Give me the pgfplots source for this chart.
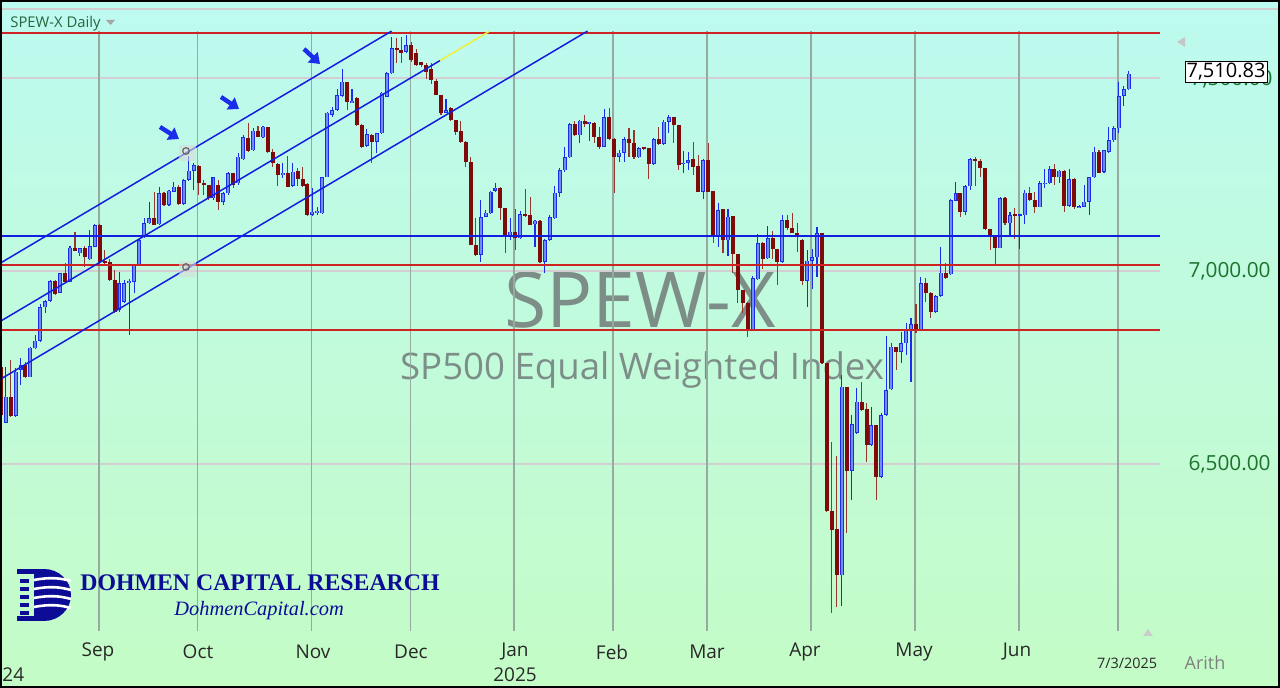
\documentclass[border=0pt]{standalone}
\usepackage{pgfplots}
\pgfplotsset{compat=1.18}
\usepackage{pgfplotstable}
\usetikzlibrary{arrows.meta}
\usepackage{fontspec}
\setmainfont{Open Sans}
\newfontfamily\timesf{Liberation Serif}

\definecolor{bgtop}{RGB}{189,250,240}
\definecolor{bgbot}{RGB}{196,252,198}
\definecolor{upblue}{RGB}{25,45,235}
\definecolor{upfill}{RGB}{115,140,245}
\definecolor{dnred}{RGB}{128,10,10}
\definecolor{dnwick}{RGB}{150,55,45}
\definecolor{gridc}{RGB}{150,170,160}
\definecolor{hgrid}{RGB}{212,205,210}
\definecolor{redline}{RGB}{205,35,35}
\definecolor{chan}{RGB}{20,30,225}
\definecolor{yell}{RGB}{240,240,60}
\definecolor{glabel}{RGB}{30,115,45}
\definecolor{wm}{RGB}{125,142,136}
\definecolor{navy}{RGB}{12,12,150}
\definecolor{ticktxt}{RGB}{40,40,40}

\pgfplotstableread{
i o h l c
-1 6752 6765 6618 6627
0 6607 6752 6605 6674.5
1 6674.5 6769.5 6622.7 6624.4
2 6624.4 6748 6622.7 6739.3
3 6743.6 6773.8 6704.7 6756.5
4 6756.5 6765.2 6722 6726.3
5 6724.6 6804 6724.6 6801.4
6 6799.7 6834.3 6797.1 6819.6
7 6819.6 6914.5 6817 6905.9
8 6905.9 6924.9 6892.1 6922.3
9 6922.3 6976.8 6920.6 6974.2
10 6974.2 6976.8 6937.9 6940.5
11 6943.9 6995.7 6942.2 6994.0
12 6994 7019.9 6968.1 6970.7
13 6972.4 7064.8 6970.7 7060.5
14 7060.5 7102 7052.7 7052.7
15 7045.8 7058.8 7038.9 7058.8
16 7060.5 7064.8 7011.3 7037.2
17 7030.3 7106.3 7028.6 7064.8
18 7063.1 7121.8 7063.1 7119.2
19 7119.2 7121.8 7015.6 7024.2
20 7026.8 7054.5 7015.6 7021.6
21 7024.2 7030.3 6975 6976.8
22 6976.8 7002.6 6892 6894.6
23 6899 6998 6894.6 6968
24 6920.5 6976.7 6916.2 6968
25 6968 6978.4 6834.2 6975
26 6972.4 7017.3 6942.1 7015.5
27 7015.5 7084.6 7015 7080.3
28 7090.7 7136.4 7084.6 7123.5
29 7123.5 7179.6 7121.8 7136.4
30 7136.4 7205.5 7119.2 7119.2
31 7120.9 7218.5 7119.2 7201.2
32 7201.2 7205.5 7168.4 7171
33 7171 7209.8 7168.4 7208
34 7205.5 7231.4 7205.5 7218.5
35 7218.5 7222.8 7171 7173.6
36 7173.6 7237.5 7171 7235.8
37 7235.8 7297.9 7234 7259.9
38 7259.9 7279 7209.8 7274.6
39 7272 7274.6 7196.9 7227.1
40 7228.8 7235.8 7196.9 7222.8
41 7222.8 7222.8 7184 7188.3
42 7188.3 7244.4 7184 7242.7
43 7222.8 7235.8 7158 7179.6
44 7179.6 7205.6 7171 7201.3
45 7201.3 7257.4 7197 7253.1
46 7253.1 7253.1 7214.2 7222.9
47 7227.2 7304.9 7222.9 7296.3
48 7289.4 7352.4 7287.6 7346.4
49 7343.8 7384.4 7309.2 7311.8
50 7313.5 7369.7 7311.8 7363.6
51 7363.6 7375.7 7346.4 7348.1
52 7346.4 7375.7 7344 7374
53 7372.3 7372.3 7304.9 7309.2
54 7309.2 7315.3 7270.3 7279
55 7277.3 7280.7 7220.3 7248.8
56 7248.8 7279 7240.1 7254.8
57 7254.8 7298 7216.8 7218.6
58 7220.3 7279 7218.6 7257.4
59 7260 7266 7220.3 7237.5
60 7237.5 7268.6 7218.6 7220.3
61 7225.4 7227.1 7143.4 7145.1
62 7145.1 7214.2 7142.5 7153.8
63 7149.4 7166.7 7145.1 7156.4
64 7149.4 7244.4 7147.7 7242.7
65 7242.7 7412.8 7242.7 7410.2
66 7404.2 7425.8 7399.9 7417.2
67 7417.1 7470.7 7415.4 7456
68 7453.4 7522.5 7451.7 7490.5
69 7490.5 7490.5 7417.1 7438.7
70 7436.1 7470.7 7434.4 7441.3
71 7447.4 7451.7 7375.7 7378.3
72 7378.3 7380.9 7317.8 7322.1
73 7323.9 7367.1 7322.1 7355
74 7352.4 7355 7280.7 7335.1
75 7335.1 7358.4 7306.6 7356.7
76 7356.7 7464.6 7355 7462
77 7451.7 7516.5 7450 7512.1
78 7512.1 7605.4 7510.4 7576.9
79 7576.9 7602.8 7538 7572.6
80 7572.6 7605.4 7538 7565.7
81 7568.3 7611.4 7565.7 7585.5
82 7585.5 7594.2 7542.4 7546.7
83 7565.7 7574.3 7531.1 7533.7
84 7542.4 7542.4 7529.4 7533.7
85 7533.7 7538 7496.6 7516.5
86 7522.5 7538 7484.5 7494.9
87 7493.1 7496.6 7456 7456
88 7456 7456 7404.2 7408.5
89 7410.2 7444.8 7408.5 7417.2
90 7421.5 7425.8 7389.5 7391.3
91 7391.3 7391.3 7352.4 7361
92 7362.8 7389.5 7332.5 7335.1
93 7335.1 7337 7270.3 7283.3
94 7283.3 7296.3 7067.4 7067.4
95 7067.4 7136.5 7038.9 7041.5
96 7041.5 7184 7024.2 7139.1
97 7140.8 7158.1 7139.1 7151.2
98 7149.4 7208.2 7147.7 7205.6
99 7208.2 7227.2 7205.6 7216
100 7214.2 7216.8 7132.2 7162.4
101 7162.4 7162.4 7045.8 7093.3
102 7090.7 7136.5 7080.3 7101.9
103 7101.9 7159.8 7054.5 7084.7
104 7084.7 7156.4 7082.1 7147.7
105 7147.7 7211.6 7140.8 7142.5
106 7145.1 7190.9 7119.2 7119.2
107 7121.8 7132.2 7063.1 7130.5
108 7130.5 7132.2 7021.6 7024.2
109 7024.2 7082.1 6994 7080.3
110 7080.3 7145.1 7078.6 7139.1
111 7136.4 7220 7134 7203
112 7203 7266 7192.6 7261.6
113 7261.6 7322.1 7257.3 7294.5
114 7294.5 7382.5 7292 7380.8
115 7380.8 7389.5 7349.7 7352.3
116 7352.3 7391.2 7330.7 7389.5
117 7389.5 7404.1 7373.9 7380.8
118 7382.5 7386.9 7337.6 7386.9
119 7384.3 7386.9 7332.5 7346.3
120 7348 7373.9 7315.2 7322.1
121 7322.1 7418.8 7320.4 7398.1
122 7398.1 7421.4 7339.4 7341.1
123 7341.1 7343.7 7202.9 7296.2
124 7296.2 7313.5 7283.2 7306.6
125 7306.6 7346.3 7283.2 7341.1
126 7341.1 7369.6 7296.2 7332.5
127 7332.5 7365.3 7289.3 7294.5
128 7294.5 7322.1 7292 7317.8
129 7320.4 7322.1 7313.5 7315.2
130 7317.8 7317.8 7237.5 7277.2
131 7277.2 7343.7 7275 7341.1
132 7341.1 7372.2 7326.3 7329
133 7329 7391.2 7326.3 7386.9
134 7386.9 7404.1 7358.4 7398.1
135 7398.1 7398.1 7330.7 7378.2
136 7378.2 7378.2 7261.6 7274.6
137 7277.2 7311.7 7253 7280.6
138 7280.6 7309.1 7261.6 7287.6
139 7289.3 7335.1 7248.7 7270.3
140 7272 7300.5 7205.5 7205.5
141 7205.5 7289.3 7185.7 7287.6
142 7287.6 7332.5 7205.5 7205.5
143 7208.1 7208.1 7073.4 7093.2
144 7093.2 7177 7063 7158
145 7159.8 7159.8 7047.5 7080.3
146 7080.3 7159.8 7038.8 7140.7
147 7142.5 7142.5 6994 7044
148 7044 7044 6917.9 6950.7
149 6950.7 6950.7 6890.3 6917.9
150 6917.9 6920.5 6829.8 6848.8
151 6848.8 6987 6847 6981
152 6978.4 7095.8 6976.7 7071.7
153 7071.7 7076 7004.3 7030.2
154 7032.8 7116.6 7030.2 7084.6
155 7084.6 7104.5 7030.2 7056.1
156 7056.1 7056.1 6963.7 7024.2
157 7024.2 7145.1 7021.6 7132.2
158 7132.2 7145.1 7106.3 7110.6
159 7110.6 7149.5 7097.6 7099.4
160 7099.4 7123.5 7050.1 7089
161 7080.4 7082.1 6963.8 6975
162 6975 7054.5 6905.9 7026.8
163 7026.8 7056.2 6952.6 7035.5
164 7035.5 7113.2 6983.6 7097.6
165 7097.6 7099.4 6759.1 6760.8
166 6760.8 6760.8 6376.5 6379.1
167 6379.1 6557.9 6113.1 6329
168 6330.8 6520.8 6128.7 6212.4
169 6212.4 6730.6 6132.1 6700.4
170 6700.4 6700.4 6320.4 6482.8
171 6482.8 6627 6406.8 6603.7
172 6581.2 6696.1 6579 6661.5
173 6661.5 6713.3 6638 6639.9
174 6641.7 6657.2 6506.1 6549.3
175 6549.3 6648.6 6547 6601.1
176 6601.1 6601.1 6406.8 6467.2
177 6467.2 6631.3 6465 6627
178 6627 6831.6 6625 6691.8
179 6693.4 6812.6 6691.8 6803.9
180 6803.9 6803.9 6743.5 6791
181 6791 6842.8 6760.8 6812.6
182 6812.6 6864.4 6782.4 6848.9
183 6847.2 6877.4 6713.3 6862.7
184 6862.7 6914.5 6838.5 6847.2
185 6848.9 6983.6 6847.2 6968.1
186 6968.1 6981 6920.6 6942.2
187 6942.2 6946.5 6877.4 6894.6
188 6894.6 6937.8 6892 6935.3
189 6935.3 7063.1 6933.6 6995.7
190 6995.7 7019.9 6978.4 6981
191 6992.2 7185.7 6989.6 7184
192 7182.2 7231.5 7180.4 7201.2
193 7201.2 7201.2 7140.8 7153.7
194 7153.7 7222.8 7145.1 7220.2
195 7220.2 7291.9 7209.9 7289.3
196 7289.3 7296.2 7220.2 7285.9
197 7285.9 7289.3 7244.4 7266
198 7266 7266 7106.2 7108
199 7108 7108 7054.4 7089
200 7090.7 7090.7 7015.6 7058.7
201 7058.8 7192.6 7058.8 7188.3
202 7188.3 7192.6 7119.2 7123.5
203 7123.5 7153.8 7090.7 7145.1
204 7147.7 7162.4 7082.1 7145.1
205 7145.1 7147.7 7056.2 7147.7
206 7145.1 7209.9 7121.8 7203
207 7203 7218.6 7182 7184
208 7184 7205.6 7149.4 7165
209 7165 7234.1 7165 7227.2
210 7225.4 7263.4 7214.2 7228.9
211 7227.2 7272.1 7225.4 7263.4
212 7263.4 7277.3 7222.9 7242.7
213 7242.7 7262 7228.9 7260
214 7260 7262 7153.8 7168.4
215 7168.4 7263.4 7166.7 7237.5
216 7237.5 7240.1 7159.8 7165
217 7165 7170 7163 7168.4
218 7166.7 7222.9 7165 7179.7
219 7179.7 7244.4 7145.1 7242.7
220 7242.7 7320.4 7240.1 7309.2
221 7309.2 7313.5 7253.1 7254.8
222 7257.4 7313.5 7254.8 7313.5
223 7309.2 7374 7306.6 7339.4
224 7339.4 7375.7 7335.1 7369.7
225 7369.7 7490.6 7358.4 7453.4
226 7453.4 7479.3 7427.5 7470.7
227 7470.7 7519.1 7468 7510.8
}\candles

\begin{document}
\begin{tikzpicture}
% background (pixel-like frame: x=0.5pt, y=-0.5pt, origin at image top-left)
\begin{scope}[x=0.5pt,y=-0.5pt,yshift=315.5pt]
  \shade[top color=bgtop, bottom color=bgbot] (0,0) rectangle (1280,688);
  \draw[color=hgrid, line width=0.7pt] (0,9) -- (1280,9);
  \node[font=\fontsize{38.5}{40}\selectfont, text=wm] at (640,300) {SPEW-X};
  \node[font=\fontsize{18.3}{20}\selectfont, text=wm] at (642,370) {SP500 Equal Weighted Index};
\end{scope}

\begin{axis}[
  scale only axis, width=580pt, height=300pt,
  xmin=-1.152, xmax=233.33, ymin=6067.4, ymax=7621.8,
  axis line style={draw=none}, xtick=\empty, ytick=\empty,
  clip mode=individual,
]
% horizontal light grid
\pgfplotsinvokeforeach{6500,7000,7500}{
  \addplot[forget plot, hgrid, line width=0.6pt] coordinates {(-1.152,#1) (233.33,#1)};
}
% vertical month grid
\pgfplotsinvokeforeach{18.8,38.8,61.8,81.8,102.8,122.8,141.8,162.8,183.8,204.8,224.8}{
  \addplot[forget plot, gridc, line width=0.8pt] coordinates {(#1,6067.4) (#1,7621.8)};
}
% up candles
\addplot[forget plot, draw=none, mark=none,
  restrict expr to domain={\thisrow{c}-\thisrow{o}}{0:inf},
  error bars/.cd, y dir=both, y explicit, error mark=none,
  error bar style={draw=upblue, line width=0.55pt}]
  table[x=i, y expr={(\thisrow{h}+\thisrow{l})/2}, y error expr={(\thisrow{h}-\thisrow{l})/2}] {\candles};
\addplot[forget plot, draw=none, mark=none,
  restrict expr to domain={\thisrow{c}-\thisrow{o}}{0:inf},
  error bars/.cd, y dir=both, y explicit, error mark=none,
  error bar style={draw=upblue, line width=2pt}]
  table[x=i, y expr={(\thisrow{o}+\thisrow{c})/2}, y error expr={max(abs(\thisrow{c}-\thisrow{o})/2,1.4)}] {\candles};
\addplot[forget plot, draw=none, mark=none,
  restrict expr to domain={\thisrow{c}-\thisrow{o}}{0:inf},
  error bars/.cd, y dir=both, y explicit, error mark=none,
  error bar style={draw=upfill, line width=0.95pt}]
  table[x=i, y expr={(\thisrow{o}+\thisrow{c})/2}, y error expr={max(abs(\thisrow{c}-\thisrow{o})/2-1.4,0)}] {\candles};
% down candles
\addplot[forget plot, draw=none, mark=none,
  restrict expr to domain={\thisrow{o}-\thisrow{c}}{0.001:inf},
  error bars/.cd, y dir=both, y explicit, error mark=none,
  error bar style={draw=dnwick, line width=0.55pt}]
  table[x=i, y expr={(\thisrow{h}+\thisrow{l})/2}, y error expr={(\thisrow{h}-\thisrow{l})/2}] {\candles};
\addplot[forget plot, draw=none, mark=none,
  restrict expr to domain={\thisrow{o}-\thisrow{c}}{0.001:inf},
  error bars/.cd, y dir=both, y explicit, error mark=none,
  error bar style={draw=dnred, line width=2pt}]
  table[x=i, y expr={(\thisrow{o}+\thisrow{c})/2}, y error expr={max(abs(\thisrow{c}-\thisrow{o})/2,1.4)}] {\candles};
% horizontal reference lines
\addplot[forget plot, redline, line width=0.75pt] coordinates {(-1.152,7616.6) (233.33,7616.6)};
\addplot[forget plot, redline, line width=0.75pt] coordinates {(-1.152,7015.6) (233.33,7015.6)};
\addplot[forget plot, redline, line width=0.75pt] coordinates {(-1.152,6847.2) (233.33,6847.2)};
\addplot[forget plot, chan, line width=0.75pt] coordinates {(-1.152,7090.7) (233.33,7090.7)};
% channel
\addplot[forget plot, chan, line width=0.75pt] coordinates {(-1.152,7019.9) (78.0,7621.5)};
\addplot[forget plot, chan, line width=0.75pt] coordinates {(-1.152,6869.1) (87.8,7545.2)};
\addplot[forget plot, yell, line width=0.75pt] coordinates {(87.8,7545.2) (97.85,7621.6)};
\addplot[forget plot, chan, line width=0.75pt] coordinates {(-1.152,6719.0) (117.6,7621.5)};
\end{axis}

\begin{scope}[x=0.5pt,y=-0.5pt,yshift=315.5pt]
  % small markers on channel
  \fill[gray!30, opacity=0.6] (179,145) rectangle (196,161);
  \draw[gray!80!black, line width=0.6pt] (186,151) circle (3.3);
  \fill[gray!30, opacity=0.6] (179,261) rectangle (196,277);
  \draw[gray!80!black, line width=0.6pt] (186,267) circle (3.3);
  % arrows
  \foreach \a/\b/\c/\d in {160/127/179/139, 221/97/239/109, 304/49/320/64}{
    \draw[upblue, line width=2.2pt, -{Triangle[length=5pt,width=7pt]}] (\a,\b) -- (\c,\d);
  }
  % header
  \node[anchor=west, font=\fontsize{7.4}{8}\selectfont, text={rgb,255:red,40;green,100;blue,60}, inner sep=0pt] at (10,24) {SPEW-X Daily};
  \fill[gray!70] (106,20) -- (115,20) -- (110.5,25) -- cycle;
  % right price labels
  \node[anchor=east, font=\fontsize{10.4}{12}\selectfont, text=glabel, inner sep=0pt] at (1273,79) {7,500.00};
  \node[anchor=east, font=\fontsize{10.4}{12}\selectfont, text=glabel, inner sep=0pt] at (1271,271) {7,000.00};
  \node[anchor=east, font=\fontsize{10.4}{12}\selectfont, text=glabel, inner sep=0pt] at (1271,464) {6,500.00};
  \node[draw=black, fill=white, line width=0.5pt, anchor=center, minimum width=41pt, minimum height=10.5pt, inner sep=0pt, font=\fontsize{10}{12}\selectfont] at (1226,72) {7,510.83};
  \fill[gray!45] (1177,42) -- (1185,37) -- (1185,47) -- cycle;
  \fill[gray!40] (1143,636) -- (1153,636) -- (1148,629) -- cycle;
  % month labels
  \foreach \xx/\lab in {98/Sep, 198/Oct, 313/Nov, 411/Dec, 515/Jan, 612/Feb, 707/Mar, 805/Apr, 914/May, 1017/Jun}{
    \node[font=\fontsize{9.5}{11}\selectfont, text=ticktxt, inner sep=0pt] at (\xx,652) {\lab};
  }
  \node[font=\fontsize{9.5}{11}\selectfont, text=ticktxt, inner sep=0pt] at (515,675) {2025};
  \node[font=\fontsize{9.5}{11}\selectfont, text=ticktxt, inner sep=0pt, anchor=west] at (2,675) {24};
  \node[font=\fontsize{7.2}{9}\selectfont, text=ticktxt, inner sep=0pt] at (1127,663) {7/3/2025};
  \node[font=\fontsize{9}{11}\selectfont, text=gray, inner sep=0pt] at (1205,663) {Arith};
  % logo
  \fill[navy] (17,569) rectangle (46,574);
  \fill[navy] (17,616) rectangle (46,621);
  \foreach \yy in {579,587,595,603,611}{ \fill[navy] (20,\yy) rectangle (29,\yy+4); }
  \fill[navy] (44,569) arc[start angle=-90, end angle=90, x radius=27, y radius=26] -- cycle;
  \fill[navy] (34,569) rectangle (46,621);
  \foreach \yy in {580,589,598,607}{ \draw[white, line width=1.3pt] (34,\yy) .. controls (50,\yy-3) and (60,\yy-2) .. (71,\yy+1); }
  \node[anchor=west, font=\timesf\bfseries\fontsize{11.9}{13}\selectfont, text=navy, inner sep=0pt] at (80,583) {DOHMEN CAPITAL RESEARCH};
  \node[anchor=west, font=\timesf\itshape\fontsize{10.2}{12}\selectfont, text=navy, inner sep=0pt] at (174,611) {DohmenCapital.com};
  % frame
  \draw[black, line width=1pt] (1,1) rectangle (1279,687);
\end{scope}
\pgfresetboundingbox
\path[use as bounding box] (0pt,-28.5pt) rectangle (640pt,315.5pt);
\end{tikzpicture}
\end{document}
